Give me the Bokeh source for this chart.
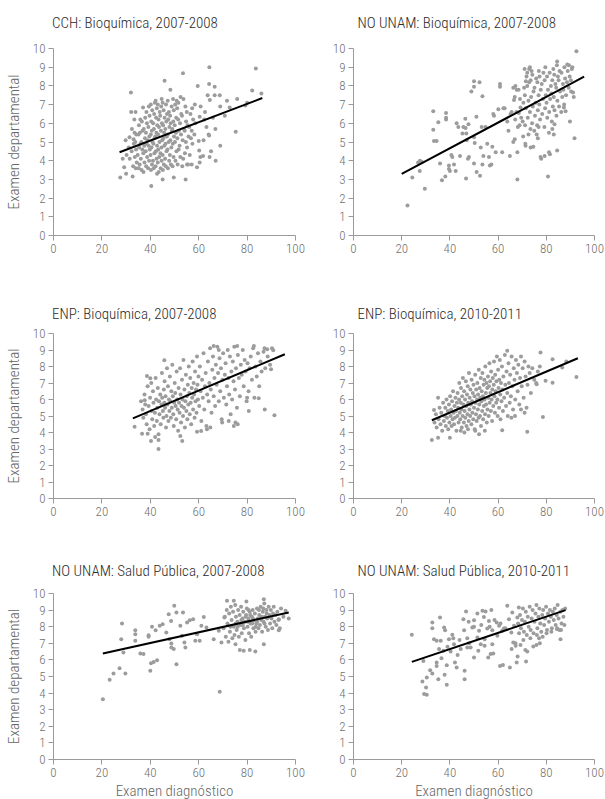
from bokeh.plotting import figure
from bokeh.layouts import column, row
from bokeh.models import Range1d, FixedTicker, Title
from bokeh.embed import file_html
from bokeh.resources import INLINE

FONT = "'Roboto Condensed Light', 'Roboto Condensed', 'DejaVu Sans Condensed', 'Liberation Sans Narrow', Roboto, sans-serif"

titles = ["CCH: Bioquímica, 2007-2008", "NO UNAM: Bioquímica, 2007-2008",
          "ENP: Bioquímica, 2007-2008", "ENP: Bioquímica, 2010-2011",
          "NO UNAM: Salud Pública, 2007-2008", "NO UNAM: Salud Pública, 2010-2011"]
x_ticks = [0, 20, 40, 60, 80, 100]
y_ticks = [0, 1, 2, 3, 4, 5, 6, 7, 8, 9, 10]
x_label = "Examen diagnóstico"
y_label = "Examen departamental"

# regression lines (end points)
fit_x = [[27.3, 86.3], [20.0, 95.7], [32.8, 95.6], [32.5, 93.1], [20.4, 97.2], [24.2, 88.0]]
fit_y = [[4.45, 7.35], [3.29, 8.49], [4.86, 8.74], [4.74, 8.50], [6.39, 8.86], [5.88, 9.00]]

# Panel 1: CCH Bioquímica 2007-2008 (x, y)
p1_pts = [
 (32.0,7.65),(45.9,8.27),(53.5,8.67),(64.4,9.0),(83.6,8.93),(48.3,7.8),(59.6,8.0),(64.3,8.1),(66.6,7.95),
 (66.6,7.5),(68.7,7.5),(63.7,7.5),(64.6,7.25),(71.7,7.2),(75.9,7.3),(82.1,7.75),(85.9,7.6),(80.0,7.1),
 (79.3,6.95),(72.8,6.85),(70.8,6.4),(68.9,6.9),(65.9,6.3),(62.3,6.2),(60.4,6.35),(64.1,5.4),(64.3,5.35),
 (75.3,5.55),(66.9,5.7),(63.2,5.8),(68.9,4.8),(65.1,4.5),(64.5,4.2),(67.0,4.0),(60.7,4.2),(61.8,4.25),
 (60.4,3.9),(59.3,3.65),(60.2,4.55),(62.0,5.1),(60.0,5.05),(57.1,3.8),(55.2,3.8),(54.6,3.0),(49.7,3.1),
 (45.1,3.0),(40.4,2.65),(42.8,3.3),(27.6,3.1),(30.0,3.3),(32.7,3.15),(28.6,4.1),(29.2,3.65),(29.8,5.1),
 (31.4,5.25),(33.1,5.15),(32.1,6.6),(33.9,6.6),(33.4,6.2),(35.9,6.2),(37.0,6.85),(60.8,6.9),(62.6,6.6),
 (35.2,3.6),(35.6,3.8),(34.8,4.3),(35.4,4.7),(35.9,4.9),(35.1,5.4),(35.7,5.5),(35.3,5.9),
 (36.4,3.5),(36.1,4.1),(36.7,4.6),(36.3,5.0),(36.8,5.6),(36.5,6.1),
 (37.2,3.4),(37.6,3.9),(37.1,4.4),(37.5,4.8),(37.8,5.2),(37.3,5.7),(37.9,6.3),
 (38.3,3.7),(38.7,4.2),(38.1,4.5),(38.5,4.9),(38.9,5.1),(38.2,5.5),(38.6,6.0),(38.4,6.6),
 (39.1,3.6),(39.5,4.0),(39.8,4.6),(39.3,4.8),(39.6,5.3),(39.2,5.8),(39.7,6.4),(39.4,6.9),
 (40.3,3.5),(40.7,3.8),(40.1,4.3),(40.5,4.7),(40.9,5.0),(40.2,5.4),(40.6,5.6),(40.4,6.1),(40.8,6.7),(40.2,7.0),
 (41.4,3.6),(41.1,4.0),(41.7,4.4),(41.3,4.9),(41.8,5.2),(41.5,5.7),(41.2,6.0),(41.6,6.5),(41.9,7.1),
 (42.2,3.7),(42.6,4.1),(42.3,4.5),(42.8,4.8),(42.1,5.3),(42.5,5.5),(42.9,5.9),(42.4,6.3),(42.7,6.8),(42.2,7.2),
 (43.5,3.4),(43.1,3.9),(43.7,4.2),(43.3,4.6),(43.8,5.0),(43.2,5.4),(43.6,5.8),(43.4,6.2),(43.9,6.6),(43.1,7.0),
 (44.3,3.6),(44.7,4.0),(44.2,4.4),(44.6,4.7),(44.9,5.1),(44.4,5.6),(44.8,6.0),(44.1,6.4),(44.5,6.9),(44.7,7.3),
 (45.2,3.5),(45.6,3.8),(45.1,4.3),(45.8,4.8),(45.4,5.2),(45.7,5.5),(45.3,5.9),(45.9,6.3),(45.5,6.7),(45.1,7.1),
 (46.4,3.7),(46.1,4.1),(46.7,4.5),(46.3,4.9),(46.8,5.3),(46.2,5.7),(46.6,6.1),(46.9,6.5),(46.5,7.0),
 (47.3,3.6),(47.8,4.0),(47.1,4.6),(47.6,5.0),(47.2,5.4),(47.9,5.8),(47.4,6.2),(47.7,6.6),(47.2,7.2),
 (48.5,3.8),(48.1,4.3),(48.7,4.7),(48.3,5.1),(48.9,5.6),(48.4,6.0),(48.2,6.4),(48.8,6.9),
 (49.2,3.7),(49.6,4.2),(49.3,4.9),(49.8,5.3),(49.1,5.7),(49.5,6.1),(49.7,6.7),(49.4,7.3),
 (50.4,4.0),(50.8,4.5),(50.2,5.0),(50.6,5.5),(50.1,5.9),(50.7,6.3),(50.3,7.0),(50.9,7.2),
 (51.3,3.8),(51.7,4.6),(51.2,5.2),(51.8,5.6),(51.5,6.2),(51.1,6.8),(51.6,7.1),
 (52.4,4.2),(52.1,4.8),(52.7,5.4),(52.3,6.0),(52.8,6.5),(52.5,7.4),
 (53.2,3.7),(53.6,4.1),(53.4,5.1),(53.9,5.7),(53.1,6.4),(53.7,7.3),
 (54.3,4.4),(54.7,5.0),(54.2,5.6),(54.8,6.1),(54.5,6.9),
 (55.6,3.8),(55.2,4.7),(55.8,5.3),(55.4,5.9),(55.1,6.6),
 (56.3,4.3),(56.8,5.2),(56.1,5.8),(56.6,6.5),
 (57.4,4.9),(57.1,5.6),(57.7,6.2),(57.3,6.8),
 (58.2,5.4),(58.6,6.0),(58.4,7.0),
 (30.2,4.3),(31.1,4.7),(32.3,4.5),(33.2,4.9),(33.6,4.2),(34.1,4.6),(31.5,4.1),(34.4,3.9),(33.5,5.5),
 (34.2,5.4),(32.4,5.7),(34.0,3.6),(32.9,3.7),(33.8,5.0),
]

# Panel 2: NO UNAM Bioquímica 2007-2008
p2_pts = [
 (22.4,1.6),(24.4,3.1),(29.6,2.5),(26.8,3.9),(27.6,4.0),(28.3,3.95),(27.5,3.45),(33.1,6.65),(33.1,5.65),
 (33.4,5.05),(34.5,5.05),(35.2,6.05),(36.7,2.95),(38.1,3.15),(35.9,3.85),(38.4,6.55),(38.4,6.3),(38.4,6.2),
 (39.6,3.75),(39.6,3.55),(40.0,3.45),(40.6,4.3),(41.0,4.2),(41.7,3.8),(42.4,3.45),(42.8,6.0),(43.5,5.8),
 (44.2,4.25),(45.2,5.45),(45.6,5.8),(46.4,6.25),(46.5,5.75),(46.8,5.45),(47.0,5.1),(46.7,3.05),(47.7,5.95),
 (47.9,4.2),(47.5,4.1),(48.9,7.7),(50.0,7.95),(50.0,8.25),(52.3,8.2),(50.3,4.95),(50.0,5.25),(50.0,3.85),
 (51.0,6.35),(51.1,3.4),(52.5,3.2),(52.8,4.7),(53.2,5.8),(53.5,7.45),(53.5,3.8),(53.9,4.25),(54.8,5.8),
 (55.5,4.9),(56.2,4.2),(56.6,3.75),(57.2,3.8),(57.6,4.75),(58.0,6.5),(58.3,6.4),(59.0,4.45),(60.1,6.75),
 (60.8,8.1),(60.8,7.95),(61.7,4.45),(62.7,6.8),(64.9,4.25),(65.6,6.6),(66.3,5.0),(66.6,7.25),(66.9,7.4),
 (67.1,6.2),(66.9,5.15),(67.7,7.8),(68.0,4.45),(68.0,3.0),(68.2,5.8),(68.6,6.55),(69.3,6.85),
 (71.0,8.9),(72.1,8.7),(73.2,9.0),(73.9,8.8),(71.5,8.25),(72.9,8.2),(74.6,4.75),(73.5,4.7),(71.4,4.8),
 (75.0,5.6),(76.0,5.4),(76.5,5.2),(76.8,5.8),(77.6,4.2),(77.9,4.1),(79.3,4.25),(81.1,4.45),(81.5,4.35),
 (80.7,3.15),(84.5,4.55),(81.1,5.5),(82.5,5.7),(83.1,5.4),(83.4,5.95),(91.7,5.2),(89.8,6.1),(92.5,9.85),
 (84.5,9.3),(88.7,9.15),(90.8,9.0),(91.4,7.4),(91.1,7.65),(87.3,6.85),(88.0,6.65),
 (70.2,6.1),(70.5,7.1),(70.8,7.9),(71.2,5.9),(71.5,6.8),(71.1,7.5),(71.8,8.5),(72.3,6.3),(72.6,7.2),
 (72.1,8.0),(72.9,8.9),(73.4,5.7),(73.2,6.6),(73.7,7.4),(73.5,8.3),(74.1,6.0),(74.4,6.9),(74.7,7.7),
 (74.2,8.6),(75.3,6.4),(75.6,7.1),(75.1,7.9),(75.8,8.4),(76.2,5.9),(76.5,6.7),(76.8,7.5),(76.3,8.2),
 (76.9,8.8),(77.4,6.2),(77.1,7.0),(77.7,7.8),(77.2,8.5),(78.3,6.5),(78.6,7.3),(78.1,8.1),(78.8,8.7),
 (79.2,5.8),(79.5,6.8),(79.8,7.5),(79.3,8.3),(79.6,9.0),(80.4,6.3),(80.1,7.1),(80.7,7.8),(80.3,8.5),
 (81.2,6.6),(81.6,7.3),(81.9,8.0),(81.4,8.7),(82.3,6.1),(82.7,6.9),(82.1,7.6),(82.5,8.3),(82.9,8.9),
 (83.4,6.7),(83.1,7.4),(83.8,8.1),(83.3,8.6),(84.2,6.4),(84.6,7.2),(84.1,7.9),(84.8,8.5),(84.4,9.1),
 (85.3,6.9),(85.7,7.7),(85.1,8.3),(85.5,8.8),(86.2,6.6),(86.6,7.4),(86.9,8.1),(86.3,8.7),(87.4,7.0),
 (87.1,7.8),(87.8,8.4),(87.5,9.0),(88.2,7.5),(88.6,8.2),(88.9,8.8),(89.3,7.9),(89.7,8.5),(89.4,9.1),
 (90.2,8.3),(90.6,8.9),(90.3,7.7),
 (66.3,7.9),(67.2,8.0),(68.5,7.8),(69.1,7.3),(69.6,6.3),(68.9,5.9),(67.6,6.6),(70.4,5.3),(71.3,4.9),
 (72.6,5.4),(62.2,6.8),(63.8,6.1),(65.2,6.5),(64.3,5.6),
]

# Panel 3: ENP Bioquímica 2007-2008
p3_pts = [
 (33.5,4.35),(36.6,3.93),(38.9,3.93),(40.3,3.48),(43.4,3.0),(43.4,3.55),(42.0,3.72),(53.2,3.48),(52.4,3.79),
 (38.6,7.43),(40.0,7.29),(45.8,8.38),(37.7,5.95),(37.9,5.7),(91.3,5.04),(87.3,5.4),(80.7,5.3),(75.2,4.6),
 (76.1,4.5),(74.5,4.4),(72.4,4.7),(69.7,4.6),(61.0,4.09),(59.3,4.05),(64.8,4.3),(63.4,4.2),(89.9,7.83),
 (88.3,9.05),(90.8,8.99),(87.2,9.1),(82.8,9.25),(75.9,9.25),(66.2,9.25),(68.3,9.0),(84.8,6.07),(80.0,6.1),
 (36.2,5.9),(36.8,5.4),(37.1,4.9),(37.6,6.3),(38.2,5.1),(38.5,4.5),(38.9,6.8),(39.3,5.6),(39.7,4.2),
 (39.9,6.1),(40.4,7.0),(40.6,5.3),(40.8,4.8),
 (41.1,6.5),(41.3,5.8),(41.6,4.4),(41.9,5.2),(42.2,7.3),(42.4,6.0),(42.7,4.7),(42.9,5.5),(43.1,6.7),
 (43.4,3.9),(43.6,5.9),(43.8,5.1),(44.1,6.3),(44.3,4.5),(44.6,5.7),(44.8,7.6),(44.9,6.1),(45.2,5.3),
 (45.4,4.9),(45.6,6.6),(45.8,5.8),(45.9,7.1),
 (46.1,5.5),(46.3,6.2),(46.5,4.3),(46.7,5.0),(46.9,7.9),(47.1,5.7),(47.3,6.8),(47.5,4.7),(47.7,6.0),
 (47.9,5.3),(48.1,7.4),(48.3,5.9),(48.5,4.9),(48.7,6.5),(48.9,5.5),(49.1,8.1),(49.3,6.2),(49.5,5.1),
 (49.7,4.4),(49.9,5.8),(50.1,7.0),(50.3,6.4),(50.5,5.6),(50.7,4.8),(50.9,7.7),
 (51.1,6.0),(51.3,5.4),(51.5,4.1),(51.7,6.7),(51.9,5.8),(52.1,5.2),(52.3,7.9),(52.5,6.3),(52.7,4.6),
 (52.9,5.6),(53.1,7.2),(53.3,6.0),(53.5,5.0),(53.7,8.4),(53.9,5.5),(54.1,6.6),(54.3,4.3),(54.5,5.9),
 (54.7,7.5),(54.9,5.3),(55.1,6.2),(55.3,4.8),(55.5,6.9),(55.7,5.7),(55.9,8.0),
 (56.1,6.4),(56.3,5.1),(56.5,7.3),(56.7,5.8),(56.9,4.5),(57.1,6.7),(57.3,6.1),(57.5,8.3),(57.7,5.4),
 (57.9,7.0),(58.1,6.3),(58.3,4.9),(58.5,7.7),(58.7,5.9),(58.9,6.6),(59.1,5.2),(59.3,8.6),(59.5,6.9),
 (59.7,6.0),(59.9,7.4),
 (60.2,5.6),(60.5,8.0),(60.8,6.5),(61.1,4.7),(61.4,7.2),(61.7,6.1),(62.0,8.8),(62.3,5.4),(62.6,6.8),
 (62.9,7.6),(63.2,4.4),(63.5,6.3),(63.8,8.3),(64.1,5.9),(64.4,7.0),(64.7,9.1),(65.0,6.6),(65.3,5.2),
 (65.6,7.8),(65.9,8.6),
 (66.2,6.2),(66.5,7.3),(66.8,5.6),(67.1,8.1),(67.4,6.9),(67.7,9.2),(68.0,7.6),(68.3,5.9),(68.6,8.5),
 (68.9,6.5),(69.2,7.9),(69.5,4.8),(69.8,7.2),(70.1,8.8),(70.4,6.1),
 (70.8,7.5),(71.1,8.2),(71.4,5.7),(71.7,6.8),(72.0,9.0),(72.3,7.3),(72.6,6.3),(72.9,8.6),(73.2,5.1),
 (73.5,7.7),(73.8,6.0),(74.1,8.3),(74.4,7.1),(74.7,9.2),(75.0,6.6),
 (75.4,7.9),(75.8,5.5),(76.2,8.7),(76.6,7.3),(77.0,6.2),(77.4,8.1),(77.8,7.5),(78.2,9.0),(78.6,6.8),
 (79.0,8.4),(79.4,7.7),(79.8,5.9),(80.2,8.2),(80.6,6.5),
 (81.0,7.9),(81.5,8.6),(82.0,7.2),(82.5,9.1),(83.0,6.1),(83.5,8.0),(84.0,7.4),(84.5,8.8),(85.0,6.8),
 (85.5,8.3),(86.0,7.7),(86.8,8.9),(87.5,7.9),(88.5,8.6),(89.5,8.1),(90.3,9.1),
]

# Panel 4: ENP Bioquímica 2010-2011
p4_pts = [
 (32.5,3.54),(35.1,3.68),(40.0,3.68),(35.1,6.11),(33.4,5.36),(63.8,8.95),(77.6,8.85),(82.6,8.44),(82.6,7.02),
 (92.5,7.37),(78.6,4.94),(72.1,4.05),(61.7,4.13),(52.1,3.89),(88.3,8.3),(86.6,7.94),(79.7,7.13),(76.0,6.92),
 (46.0,4.0),(47.5,4.2),(44.5,4.1),(50.5,4.1),(54.5,4.1),(65.5,4.9),(67.0,5.0),(69.5,5.4),(71.0,5.2),
 (33.6,4.6),(34.2,5.1),(34.5,4.3),(35.3,4.8),(35.7,5.5),(36.1,4.5),(36.4,5.2),(36.8,4.1),(37.2,5.8),
 (37.5,4.7),(37.9,5.0),
 (38.1,5.5),(38.3,4.4),(38.6,6.0),(38.8,4.9),(39.1,5.3),(39.3,4.2),(39.6,5.7),(39.8,4.6),(40.1,6.2),
 (40.3,5.0),(40.5,5.4),(40.7,4.4),(40.9,5.9),(41.1,4.8),(41.3,6.5),(41.5,5.2),(41.7,4.5),(41.9,5.6),
 (42.1,4.9),(42.3,6.1),(42.5,5.3),(42.7,4.1),(42.9,5.8),
 (43.1,5.0),(43.2,6.4),(43.4,5.5),(43.6,4.6),(43.8,6.0),(43.9,7.0),(44.1,5.2),(44.3,4.8),(44.5,5.8),
 (44.6,6.7),(44.8,5.4),(44.9,4.3),(45.1,6.2),(45.3,5.0),(45.4,7.3),(45.6,5.7),(45.8,4.6),(45.9,6.5),
 (46.1,5.3),(46.3,6.0),(46.4,4.9),(46.6,7.1),(46.8,5.6),(46.9,4.4),(47.1,6.3),(47.3,5.1),(47.4,6.8),
 (47.6,5.8),(47.8,4.7),(47.9,7.6),
 (48.1,5.4),(48.2,6.1),(48.4,5.0),(48.5,6.6),(48.7,5.7),(48.9,4.5),(49.0,7.2),(49.2,5.9),(49.3,5.2),
 (49.5,6.4),(49.7,4.8),(49.8,6.9),(50.0,5.5),(50.2,6.2),(50.3,4.2),(50.5,7.5),(50.6,5.8),(50.8,5.1),
 (50.9,6.6),(51.1,4.7),(51.3,6.0),(51.4,7.0),(51.6,5.4),(51.7,6.3),(51.9,4.9),(52.0,7.8),(52.2,5.7),
 (52.3,6.7),(52.5,5.0),(52.6,6.1),(52.8,7.3),(52.9,4.4),
 (53.1,5.9),(53.2,6.5),(53.4,5.3),(53.5,7.6),(53.7,6.2),(53.8,4.8),(54.0,6.9),(54.1,5.6),(54.3,7.2),
 (54.4,6.0),(54.6,5.1),(54.7,8.0),(54.9,6.4),(55.0,5.7),(55.2,7.0),(55.3,4.6),(55.5,6.7),(55.6,5.4),
 (55.8,7.4),(55.9,6.1),(56.1,5.0),(56.2,6.8),(56.4,8.2),(56.5,5.8),(56.7,7.1),(56.8,6.4),(57.0,5.3),
 (57.1,7.7),(57.3,6.0),(57.5,4.7),(57.6,6.6),(57.8,7.3),
 (58.0,5.6),(58.2,6.9),(58.3,8.3),(58.5,6.2),(58.7,5.2),(58.8,7.5),(59.0,6.5),(59.2,5.8),(59.3,7.1),
 (59.5,8.6),(59.7,6.0),(59.8,5.0),(60.0,7.8),(60.2,6.7),(60.4,5.5),(60.5,7.2),(60.7,8.4),(60.9,6.3),
 (61.0,4.8),(61.2,7.0),(61.4,5.9),(61.6,8.0),(61.8,6.6),(62.0,5.3),(62.2,7.4),
 (62.5,6.1),(62.8,8.7),(63.0,6.9),(63.3,5.6),(63.5,7.7),(63.8,6.4),(64.0,5.0),(64.3,8.2),(64.5,7.0),
 (64.8,5.8),(65.0,7.5),(65.3,6.2),(65.6,8.6),(65.9,6.8),(66.2,5.4),(66.5,7.9),(66.8,7.2),(67.1,6.0),
 (67.4,8.4),
 (67.8,7.6),(68.1,6.5),(68.4,8.1),(68.8,5.7),(69.1,7.3),(69.5,8.6),(69.8,6.8),(70.2,7.9),(70.6,6.1),
 (71.0,8.3),(71.4,7.4),(71.8,5.5),(72.2,6.9),(72.6,8.0),(73.1,7.6),(73.6,6.4),(74.2,7.9),(75.0,7.2),
 (75.8,7.0),(76.5,7.7),(77.3,8.0),
]

# Panel 5: NO UNAM Salud Pública 2007-2008
p5_pts = [
 (20.4,3.63),(23.2,4.8),(24.8,5.18),(27.3,5.5),(29.7,5.18),(28.3,8.19),(28.0,7.25),(28.9,6.45),(33.8,7.79),
 (33.8,7.55),(33.8,7.15),(35.9,6.39),(37.2,6.35),(39.3,7.39),(39.3,7.49),(40.0,5.34),(40.3,5.8),(41.4,5.88),
 (42.8,5.98),(40.7,7.99),(42.2,7.79),(43.9,8.05),(45.1,8.15),(46.6,7.65),(47.9,7.25),(47.6,8.75),(48.6,8.35),
 (49.9,9.26),(48.7,6.99),(48.7,6.75),(49.7,6.65),(50.8,5.74),(50.8,8.86),(53.5,8.86),(52.4,8.05),(53.1,7.45),
 (54.1,7.05),(54.5,6.75),(55.2,8.25),(56.3,8.39),(57.7,8.45),(58.6,7.15),(59.3,7.55),(60.4,7.15),(61.1,8.05),
 (62.1,8.59),(63.2,7.95),(66.2,7.25),(68.3,7.75),(68.7,4.08),(69.4,7.05),(70.6,8.55),
 (86.9,9.66),(79.7,9.52),(74.5,9.56),(71.7,9.56),(75.2,6.95),(77.0,6.59),(78.6,6.55),(81.1,6.59),(83.4,6.51),
 (86.9,6.95),(93.1,7.79),(97.2,8.49),(95.9,8.96),(93.1,8.45),
 (70.3,7.9),(70.8,8.6),(71.2,7.4),(71.6,9.0),(71.9,8.2),(72.3,7.1),(72.6,8.8),(72.9,7.7),(73.3,9.2),
 (73.6,8.4),(73.9,7.3),(74.2,8.9),(74.5,8.0),(74.8,7.5),(75.1,9.3),(75.4,8.6),(75.7,7.8),(76.0,8.3),
 (76.3,9.0),(76.6,7.4),(76.9,8.7),(77.2,8.1),(77.5,9.2),(77.8,7.6),(78.1,8.5),(78.4,8.9),(78.7,7.9),
 (79.0,8.3),(79.3,7.2),(79.6,8.7),(79.9,9.1),(80.2,8.0),(80.5,8.5),(80.8,7.6),(81.1,8.9),(81.4,8.2),
 (81.7,7.4),(82.0,8.6),(82.3,9.0),(82.6,7.9),(82.9,8.4),(83.2,8.8),(83.5,7.7),(83.8,8.2),(84.1,9.1),
 (84.4,8.5),(84.7,7.9),(85.0,8.7),(85.3,8.1),(85.6,9.2),(85.9,8.4),(86.2,7.7),(86.5,8.9),(86.8,8.3),
 (87.1,9.4),(87.4,8.6),(87.7,8.0),(88.0,9.0),(88.3,8.5),(88.6,7.8),(88.9,9.2),(89.2,8.7),(89.5,8.2),
 (89.8,9.0),(90.1,8.5),(90.4,7.9),(90.7,8.8),(91.0,9.2),(91.3,8.3),(91.7,8.7),(92.1,8.1),(92.5,8.9),
 (93.0,8.4),(93.5,7.9),(94.0,9.1),(95.0,8.6),
 (76.1,8.0),(78.2,8.1),(80.3,8.3),(82.1,8.2),(84.2,8.3),(86.1,8.6),(88.1,8.8),(83.6,8.0),(85.4,8.5),
 (81.3,8.7),(79.4,8.6),(87.2,8.2),(89.4,8.6),(77.6,8.4),(75.3,8.2),(73.1,8.0),(84.9,9.0),(82.4,8.5),
 (86.7,9.1),(80.6,9.0),
]

# Panel 6: NO UNAM Salud Pública 2010-2011
p6_pts = [
 (24.2,7.51),(28.6,4.7),(29.3,3.94),(30.4,3.9),(30.1,4.34),(30.4,4.94),(29.0,5.94),(31.8,5.38),(32.7,5.18),
 (32.7,8.25),(32.7,7.91),(33.4,7.25),(34.5,7.15),(34.5,5.84),(34.5,5.64),(35.2,4.84),(35.5,6.65),(35.9,8.55),
 (36.2,7.15),(37.3,6.55),(37.6,7.95),(38.0,7.79),(37.8,5.1),(38.7,4.5),(38.7,5.68),(39.0,6.79),(39.6,7.25),
 (41.0,7.51),(41.4,7.31),(41.7,6.95),(42.1,5.84),(42.8,5.54),(44.5,6.65),(45.6,8.45),(45.9,7.79),(46.1,5.34),
 (46.1,4.84),(46.7,8.92),(47.2,7.31),(47.2,6.75),(48.6,6.75),(49.3,7.95),(50.0,7.99),(50.0,6.14),(50.0,8.39),
 (51.4,8.8),(51.4,7.35),(51.8,6.55),(52.1,7.75),(52.8,6.95),(53.5,8.96),(54.1,8.59),(54.4,7.25),(54.4,6.85),
 (54.8,8.92),(55.5,7.89),(55.9,6.14),(56.2,8.35),(56.9,6.35),(57.6,7.79),(57.6,6.95),(58.0,6.39),(59.4,8.25),
 (59.7,7.45),(60.4,8.05),(60.8,5.64),(61.7,7.75),(62.4,7.89),(63.8,9.26),(64.5,8.45),(64.9,5.54),(65.5,7.65),
 (65.6,6.65),(65.9,8.86),(66.3,7.05),(66.6,8.05),(67.3,6.85),(67.7,5.84),(68.0,8.55),(68.6,9.16),
 (43.2,6.3),(48.0,7.0),(53.0,8.1),(56.5,8.0),(58.5,8.4),(61.0,8.2),(63.0,7.9),(62.0,5.7),(44.0,7.2),
 (36.5,6.1),(40.3,6.5),(47.8,8.3),(57.2,9.0),
 (68.3,8.2),(68.7,7.6),(69.1,8.7),(69.5,7.9),(69.9,8.4),(70.3,9.1),(70.7,7.7),(71.1,8.3),(71.5,8.9),
 (71.9,7.5),(72.3,8.6),(72.7,8.0),(73.1,9.2),(73.5,7.8),(73.9,8.5),(74.3,9.0),(74.7,7.6),(75.1,8.3),
 (75.5,8.8),(75.9,9.3),(76.3,7.9),(76.7,8.6),(77.1,9.1),(77.5,8.2),(77.9,7.7),(78.3,8.7),(78.7,9.0),
 (79.1,8.1),(79.5,8.5),(79.9,9.2),(80.3,7.8),(80.7,8.8),(81.1,8.3),(81.5,9.0),(81.9,8.6),(82.3,7.9),
 (82.7,8.9),(83.1,8.4),(83.5,9.1),(83.9,8.1),(84.3,8.7),(84.7,9.3),(85.1,8.5),(85.5,7.8),(85.9,8.9),
 (86.3,8.2),(86.7,9.0),(87.1,8.6),(87.5,8.1),(87.8,9.1),
 (69.3,6.9),(70.5,7.2),(72.1,6.5),(73.4,7.3),(74.6,6.8),(76.1,7.5),(77.3,7.0),(78.5,7.4),(80.1,7.6),
 (82.1,7.7),(84.5,7.9),(86.1,7.8),(71.6,5.9),(68.1,6.2),(67.2,7.0),(85.9,7.25),(84.5,7.85),(71.3,6.6),
 (75.9,6.9),(77.0,7.3),
]

panels = [p1_pts, p2_pts, p3_pts, p4_pts, p5_pts, p6_pts]

frame_w = [242, 241]
border_l = [53, 48]
border_r = [10, 11]
frame_h = [187, 165, 166]
border_t = [48, 68, 65]
border_b = [30, 30, 40]
spacer = [12, 6, 9]
title_offset = [-1.5, 4]

AXIS_GRAY = "#9a9a9a"
LABEL_GRAY = "#707070"


def make(i):
    r, c = divmod(i, 2)
    p = figure(frame_width=frame_w[c], frame_height=frame_h[r],
               min_border_left=border_l[c], min_border_right=border_r[c],
               min_border_top=border_t[r], min_border_bottom=border_b[r],
               x_range=Range1d(0, 100), y_range=Range1d(0, 10),
               output_backend="svg", toolbar_location=None, tools="")
    p.title = None
    # blank spacer between frame and title
    p.add_layout(Title(text=".", text_font_size="2px", standoff=spacer[r],
                       text_color="white"), "above")
    p.add_layout(Title(text=titles[i], text_font=FONT, text_font_size="15px",
                       text_font_style="normal", text_color="#2b2b2b",
                       offset=title_offset[c], standoff=4), "above")
    p.outline_line_color = None
    p.grid.visible = False
    p.background_fill_color = "white"
    p.border_fill_color = "white"

    for ax in (p.xaxis[0], p.yaxis[0]):
        ax.axis_line_color = AXIS_GRAY
        ax.major_tick_line_color = AXIS_GRAY
        ax.minor_tick_line_color = None
        ax.major_tick_out = 5
        ax.major_tick_in = 0
        ax.major_label_text_font = FONT
        ax.major_label_text_font_size = "13px"
        ax.major_label_text_color = LABEL_GRAY
        ax.major_label_standoff = 3
        ax.axis_label_text_font = FONT
        ax.axis_label_text_font_size = "15px"
        ax.axis_label_text_font_style = "normal"
        ax.axis_label_text_color = "#666666"
    p.xaxis.ticker = FixedTicker(ticks=x_ticks)
    p.yaxis.ticker = FixedTicker(ticks=y_ticks)
    if c == 0:
        p.yaxis.axis_label = y_label
        p.yaxis.axis_label_standoff = 7
    if r == 2:
        p.xaxis.axis_label = x_label
        p.xaxis.axis_label_standoff = 2

    pts = panels[i]
    xs = [q[0] for q in pts]
    ys = [q[1] for q in pts]
    p.scatter(xs, ys, size=4, fill_color="#9c9c9c", line_color=None)
    p.line(fit_x[i], fit_y[i], line_color="black", line_width=2)
    return p


figs = [make(i) for i in range(6)]
layout = column(row(figs[0], figs[1]), row(figs[2], figs[3]), row(figs[4], figs[5]))

open("out.html", "w").write(file_html(layout, INLINE))
